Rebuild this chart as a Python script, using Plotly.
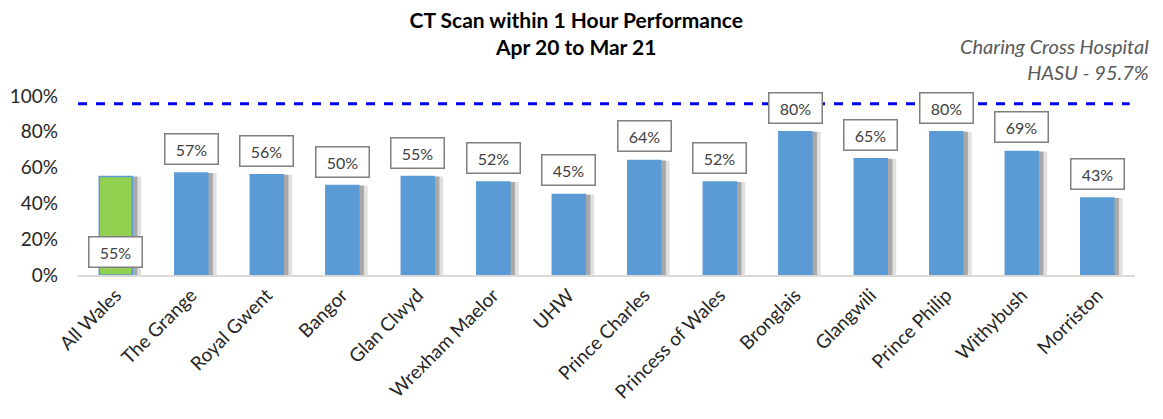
import plotly.graph_objects as go

sites = ["All Wales", "The Grange", "Royal Gwent", "Bangor", "Glan Clwyd",
         "Wrexham Maelor", "UHW", "Prince Charles", "Princess of Wales",
         "Bronglais", "Glangwili", "Prince Philip", "Withybush", "Morriston"]
ct_pct = [55, 57, 56, 50, 55, 52, 45, 64, 52, 80, 65, 80, 69, 43]
benchmark = 95.7
benchmark_name = "Charing Cross Hospital<br>HASU - 95.7%"

BLUE = "#5B9BD5"
GREEN = "#92D050"
TXT = "#262626"

bar_colors = [GREEN if s == "All Wales" else BLUE for s in sites]

fig = go.Figure()

# soft grey shadow behind each bar (two layers for a bit of fade)
fig.add_trace(go.Bar(x=sites, y=ct_pct, width=0.437, offset=-0.10,
                     marker=dict(color="rgba(0,0,0,0.12)", line=dict(width=0)),
                     hoverinfo="skip", showlegend=False))
fig.add_trace(go.Bar(x=sites, y=ct_pct, width=0.437, offset=-0.15,
                     marker=dict(color="rgba(0,0,0,0.25)", line=dict(width=0)),
                     hoverinfo="skip", showlegend=False))
fig.add_trace(go.Bar(x=sites, y=ct_pct, width=0.437, offset=-0.218,
                     marker=dict(color=bar_colors, line=dict(color=BLUE, width=1.5)),
                     showlegend=False))

# data labels in boxes
for s, v in zip(sites, ct_pct):
    if s == "All Wales":
        fig.add_annotation(x=s, y=0, yanchor="bottom", yshift=7, text=f"{v}%",
                           showarrow=False)
    else:
        fig.add_annotation(x=s, y=v, yanchor="bottom", yshift=8, text=f"{v}%",
                           showarrow=False)
fig.update_annotations(font=dict(family="Lato", size=16, color="#404040"),
                       bgcolor="white", bordercolor="#7F7F7F", borderwidth=1.5,
                       borderpad=5, width=42, height=19)

# benchmark line
fig.add_shape(type="line", xref="paper", yref="y", x0=0, x1=0.995,
              y0=benchmark, y1=benchmark,
              line=dict(color="#0000EE", width=3, dash="dash"))
fig.add_annotation(xref="paper", yref="paper", x=1.014, y=1.209, xanchor="right",
                   yanchor="middle", text=benchmark_name, showarrow=False,
                   align="right", bgcolor="rgba(0,0,0,0)", borderwidth=0,
                   width=None, height=None,
                   font=dict(family="Lato", size=20, color="#595959",
                             style="italic"))

# the page body adds an 8px margin, so the figure is sized to fit inside it
fig.update_layout(
    width=1155, height=411,
    margin=dict(l=70, r=28, t=88, b=144),
    paper_bgcolor="white", plot_bgcolor="white",
    barmode="overlay",
    title=dict(text="<b>CT Scan within 1 Hour Performance<br>Apr 20 to Mar 21</b>",
               x=0.492, xanchor="center", y=0.951, yanchor="top",
               font=dict(family="Lato", size=21, color="black")),
    xaxis=dict(tickangle=-45, showline=True, linecolor="#D9D9D9", linewidth=1.5,
               ticks="", automargin=False,
               tickfont=dict(family="Lato", size=19, color=TXT)),
    yaxis=dict(range=[0, 100], dtick=20, ticksuffix="%", showgrid=False,
               zeroline=False, ticks="", automargin=False, ticklabelstandoff=19,
               tickfont=dict(family="Lato", size=19, color=TXT)),
)

fig.write_html("out.html")
